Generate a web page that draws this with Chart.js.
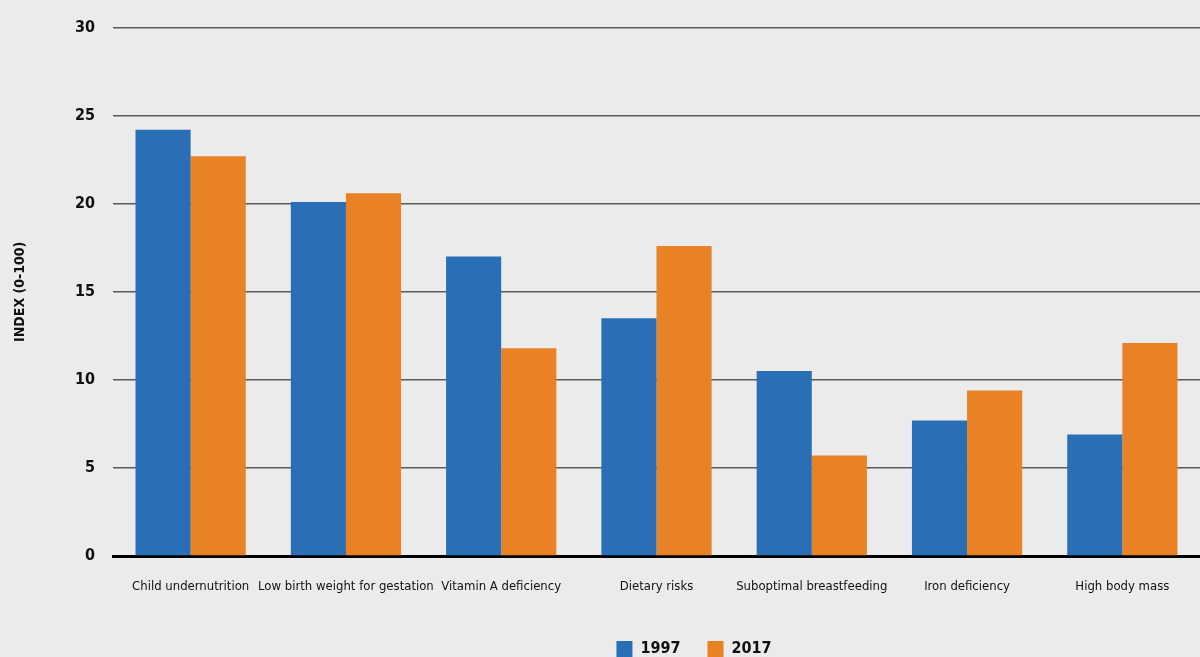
<!DOCTYPE html>
<html>
<head>
<meta charset="utf-8">
<script src="https://cdn.jsdelivr.net/npm/chart.js@4.4.1/dist/chart.umd.min.js"></script>
<style>
  html, body { margin: 0; padding: 0; background: #ebebeb; }
  #wrap { width: 1200px; height: 657px; position: relative; }
</style>
</head>
<body>
<div id="wrap"><canvas id="chart"></canvas></div>
<script>
// risk factor categories
const categories = [
    "Child undernutrition",
    "Low birth weight for gestation",
    "Vitamin A deficiency",
    "Dietary risks",
    "Suboptimal breastfeeding",
    "Iron deficiency",
    "High body mass"
];

// index values (0-100)
const values1997 = [24.2, 20.1, 17.0, 13.5, 10.5, 7.7, 6.9];
const values2017 = [22.7, 20.6, 11.8, 17.6, 5.7, 9.4, 12.1];

const yTicks = [0, 5, 10, 15, 20, 25, 30];

const FONT = "'Liberation Sans Narrow', 'DejaVu Sans Condensed', 'Roboto', sans-serif";

// move the legend right and down, like the original
const legendShift = {
    id: "legendShift",
    afterLayout(chart) {
        const lg = chart.legend;
        lg.left += 94;
        lg.right += 94;
        lg.top += 10;
        lg.bottom += 10;
    }
};

new Chart(document.getElementById("chart"), {
    type: "bar",
    data: {
        labels: categories,
        datasets: [
            {
                label: "1997",
                data: values1997,
                backgroundColor: "#2a6eb6",
                borderWidth: 0
            },
            {
                label: "2017",
                data: values2017,
                backgroundColor: "#e98125",
                borderWidth: 0
            }
        ]
    },
    options: {
        responsive: true,
        maintainAspectRatio: false,
        animation: false,
        layout: { padding: { top: 18, right: 0, bottom: 0, left: 0 } },
        datasets: {
            bar: { categoryPercentage: 0.71, barPercentage: 1.0 }
        },
        plugins: {
            legend: {
                position: "bottom",
                labels: {
                    boxWidth: 16,
                    boxHeight: 16,
                    padding: 27,
                    color: "#111",
                    font: { family: FONT, size: 16, weight: "bold" }
                }
            },
            tooltip: { enabled: false }
        },
        scales: {
            x: {
                grid: { display: false },
                border: { display: true, color: "#000", width: 3 },
                ticks: {
                    color: "#111",
                    padding: 15,
                    maxRotation: 0,
                    autoSkip: false,
                    font: { family: FONT, size: 13, weight: "normal" }
                },
                afterFit(scale) { scale.height = 48; }
            },
            y: {
                min: 0,
                max: 30,
                afterBuildTicks(scale) {
                    scale.ticks = yTicks.map(v => ({ value: v }));
                },
                grid: {
                    color: "#5a5a5a",
                    lineWidth: 1.5,
                    drawTicks: false
                },
                border: { display: false },
                ticks: {
                    color: "#111",
                    padding: 18,
                    font: { family: FONT, size: 16, weight: "bold" }
                },
                title: {
                    display: true,
                    text: "INDEX (0-100)",
                    color: "#111",
                    padding: { top: 12, bottom: 0 },
                    font: { family: FONT, size: 14, weight: "bold" }
                },
                afterFit(scale) { scale.width = 113; }
            }
        }
    },
    plugins: [legendShift]
});
</script>
</body>
</html>
